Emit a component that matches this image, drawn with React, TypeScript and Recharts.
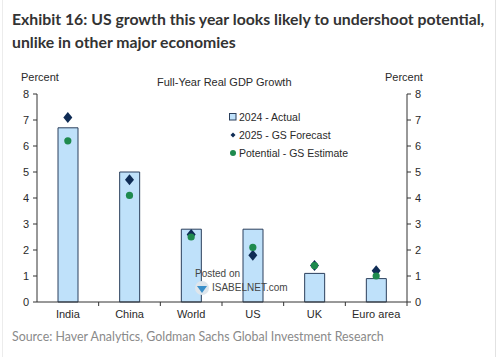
import React from "react";
import { ComposedChart, Bar, Scatter, XAxis, YAxis } from "recharts";

const categories = ["India", "China", "World", "US", "UK", "Euro area"];
const actual2024 = [6.7, 5.0, 2.8, 2.8, 1.1, 0.9];
const forecast2025 = [7.1, 4.7, 2.6, 1.8, 1.4, 1.2];
const potential = [6.2, 4.1, 2.5, 2.1, 1.4, 1.0];
const yTicks = [0, 1, 2, 3, 4, 5, 6, 7, 8];

const data = categories.map((name, i) => ({
  name,
  actual: actual2024[i],
  forecast: forecast2025[i],
  potential: potential[i]
}));

const COLORS = {
  bar: "#bfe1fa",
  barStroke: "#2b3f5c",
  forecast: "#0f2c55",
  potential: "#1e8a4e",
  axis: "#333333",
  text: "#2a2a2a"
};

const AXIS_FONT = "'Liberation Sans', Arial, sans-serif";

const Diamond = (props: any) => {
  const { cx, cy } = props;
  if (cx == null || cy == null) return null;
  const r = 5.5;
  return (
    <polygon
      points={`${cx},${cy - r} ${cx + r - 1},${cy} ${cx},${cy + r} ${cx - r + 1},${cy}`}
      fill={COLORS.forecast}
    />
  );
};

const Dot = (props: any) => {
  const { cx, cy } = props;
  if (cx == null || cy == null) return null;
  return <circle cx={cx} cy={cy} r={3.6} fill={COLORS.potential} />;
};

const CategoryTick = (props: any) => {
  const { x, y, payload } = props;
  const off = payload && payload.offset ? payload.offset : 30.8;
  return (
    <g>
      <line x1={x + off} x2={x + off} y1={y - 8} y2={y - 4} stroke={COLORS.axis} />
      <text
        x={x}
        y={y}
        dy="0.71em"
        textAnchor="middle"
        fontSize={11}
        fontFamily={AXIS_FONT}
        fill={COLORS.text}
      >
        {payload.value}
      </text>
    </g>
  );
};

function LegendBox() {
  const items = [
    { label: "2024 - Actual", kind: "bar" },
    { label: "2025 - GS Forecast", kind: "diamond" },
    { label: "Potential - GS Estimate", kind: "dot" }
  ];
  return (
    <div style={{ position: "absolute", left: 229, top: 108, fontFamily: AXIS_FONT, fontSize: 10.5, color: COLORS.text }}>
      {items.map((it) => (
        <div key={it.label} style={{ display: "flex", alignItems: "center", height: 18 }}>
          <svg width={8} height={8} style={{ marginRight: 2 }}>
            {it.kind === "bar" && (
              <rect x={0.5} y={0.5} width={6.5} height={6.5} fill={COLORS.bar} stroke={COLORS.barStroke} />
            )}
            {it.kind === "diamond" && <polygon points="4,1.5 6.5,4 4,6.5 1.5,4" fill={COLORS.forecast} />}
            {it.kind === "dot" && <circle cx={4} cy={4} r={3} fill={COLORS.potential} />}
          </svg>
          <span>{it.label}</span>
        </div>
      ))}
    </div>
  );
}

export default function App() {
  return (
    <div style={{ position: "absolute", left: 0, top: 0, width: 500, height: 357, background: "#fff", overflow: "hidden" }}>
      {/* frame */}
      <div style={{ position: "absolute", left: 2, top: 0, width: 492, height: 357, borderLeft: "1px solid #ececec", borderRight: "1px solid #e2e2e2" }} />

      {/* heading */}
      <div
        style={{
          position: "absolute",
          left: 12,
          top: 7,
          width: 490,
          fontFamily: "Lato, 'Open Sans', sans-serif",
          fontWeight: 700,
          fontSize: 15.8,
          lineHeight: "23px",
          color: "#333"
        }}
      >
        Exhibit 16: US growth this year looks likely to undershoot potential,
        <br />
        unlike in other major economies
      </div>

      <div style={{ position: "absolute", left: 0, top: 0 }}>
        <ComposedChart
          width={500}
          height={357}
          data={data}
          margin={{ top: 94, right: 63, bottom: 25, left: 7 }}
        >
          <XAxis
            dataKey="name"
            tickLine={false}
            tickSize={4}
            tickMargin={4}
            height={30}
            interval={0}
            axisLine={{ stroke: COLORS.axis }}
            tick={<CategoryTick />}
          />
          <YAxis
            yAxisId="left"
            domain={[0, 8]}
            ticks={yTicks}
            width={30}
            tickSize={4}
            tickMargin={4}
            axisLine={{ stroke: COLORS.axis }}
            tickLine={{ stroke: COLORS.axis }}
            tick={{ fontSize: 11, fontFamily: AXIS_FONT, fill: COLORS.text }}
          />
          <YAxis
            yAxisId="right"
            orientation="right"
            domain={[0, 8]}
            ticks={yTicks}
            width={30}
            tickSize={4}
            tickMargin={4}
            axisLine={{ stroke: COLORS.axis }}
            tickLine={{ stroke: COLORS.axis }}
            tick={{ fontSize: 11, fontFamily: AXIS_FONT, fill: COLORS.text }}
          />
          <Bar
            yAxisId="left"
            dataKey="actual"
            barSize={20}
            fill={COLORS.bar}
            stroke={COLORS.barStroke}
            strokeWidth={1}
            isAnimationActive={false}
          />
          <Scatter yAxisId="left" dataKey="forecast" shape={<Diamond />} isAnimationActive={false} />
          <Scatter yAxisId="right" dataKey="potential" shape={<Dot />} isAnimationActive={false} />
        </ComposedChart>
      </div>

      <LegendBox />

      {/* chart labels */}
      <div style={{ position: "absolute", left: 21, top: 71, fontFamily: AXIS_FONT, fontSize: 11, color: COLORS.text }}>Percent</div>
      <div style={{ position: "absolute", left: 385, top: 71, fontFamily: AXIS_FONT, fontSize: 11, color: COLORS.text }}>Percent</div>
      <div style={{ position: "absolute", left: 157, top: 76, fontFamily: AXIS_FONT, fontSize: 11, color: COLORS.text }}>
        Full-Year Real GDP Growth
      </div>

      {/* watermark */}
      <svg style={{ position: "absolute", left: 194, top: 280 }} width={16} height={16}>
        <circle cx={8} cy={8} r={7} fill="#dfe6ec" />
        <path d="M3 6 L13 6 L8 13 Z" fill="#3a8fc9" />
      </svg>
      <div style={{ position: "absolute", left: 195, top: 268, fontFamily: AXIS_FONT, fontSize: 10, color: "#444" }}>Posted on</div>
      <div style={{ position: "absolute", left: 212, top: 282, fontFamily: AXIS_FONT, fontSize: 10, color: "#444" }}>ISABELNET.com</div>

      {/* source */}
      <div
        style={{
          position: "absolute",
          left: 12,
          top: 329,
          fontFamily: "Lato, 'Open Sans', sans-serif",
          fontSize: 12.4,
          color: "#8a8a8a"
        }}
      >
        Source: Haver Analytics, Goldman Sachs Global Investment Research
      </div>
    </div>
  );
}
